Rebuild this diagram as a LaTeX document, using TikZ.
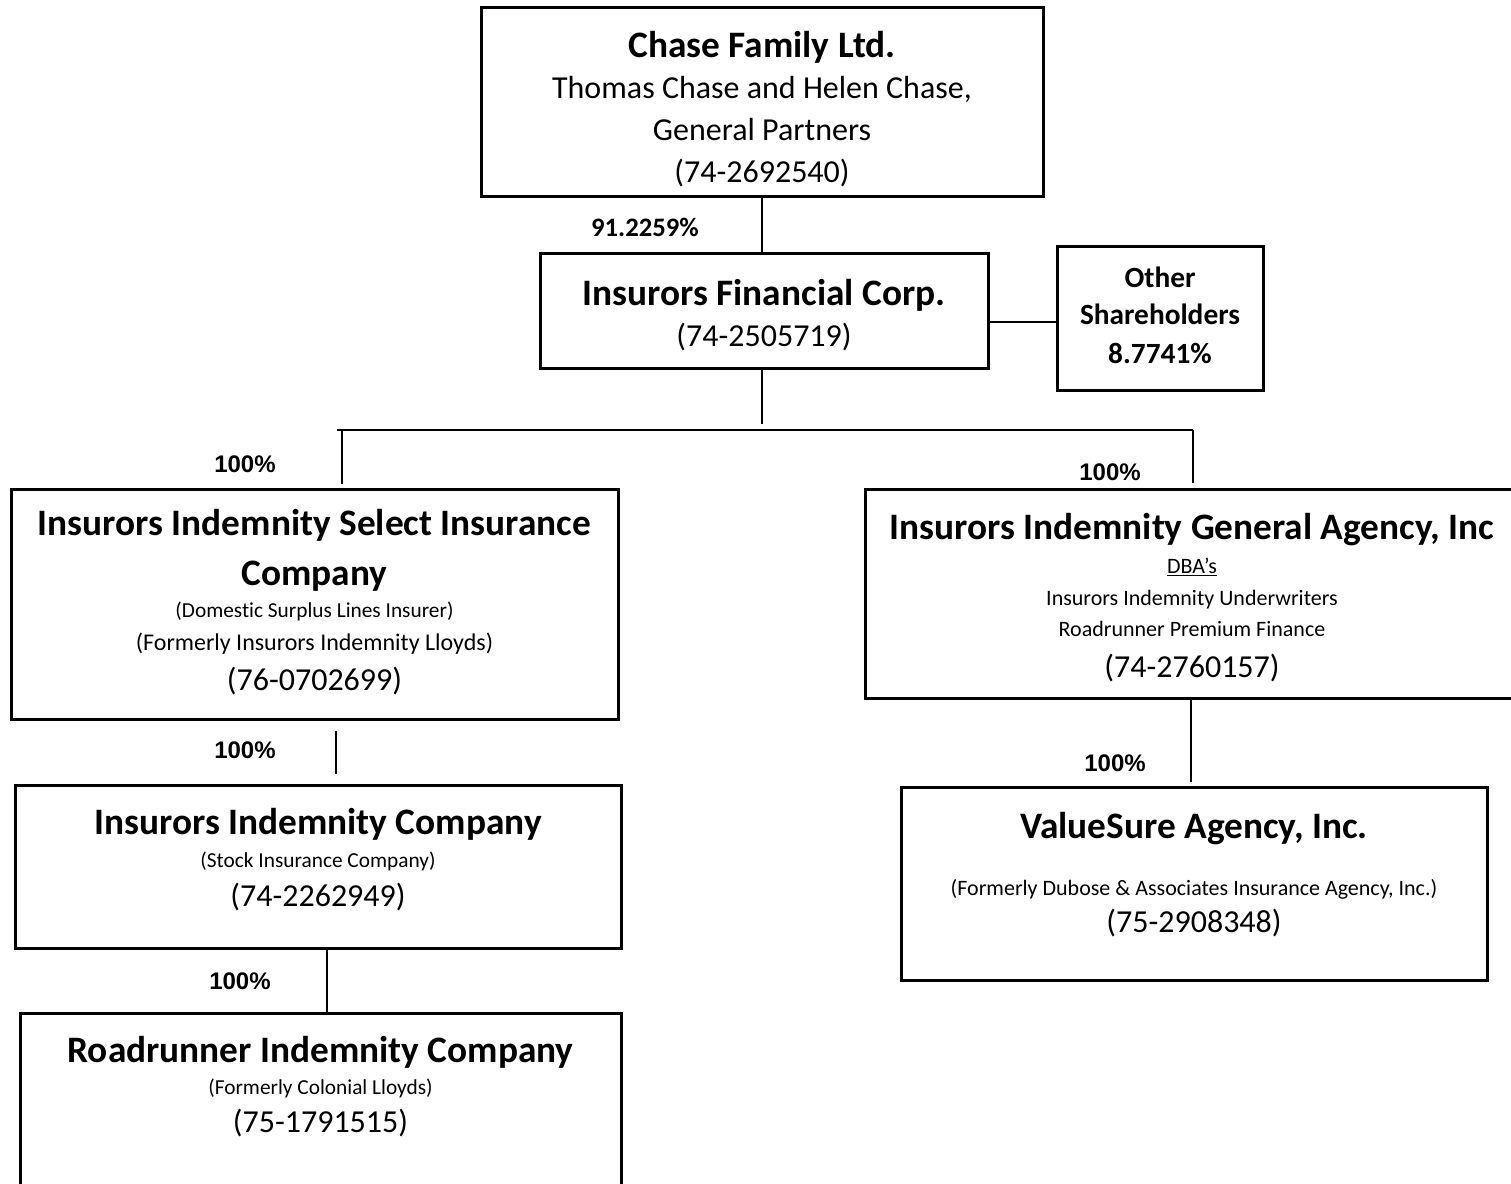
\documentclass[tikz,border=0pt]{standalone}
\usepackage{fontspec}
\setmainfont{Carlito}[Ligatures=NoCommon]
\newfontfamily\arialfont{Liberation Sans}
\begin{document}
\begin{tikzpicture}[x=0.75pt, y=-0.75pt,
  box/.style={draw, line width=2.25pt, inner sep=0pt},
  sz/.style 2 args={minimum width={#1*0.75pt}, minimum height={#2*0.75pt}},
  link/.style={line width=1pt},
  lbl/.style={anchor=base, inner sep=0pt},
  head/.style={lbl, font=\fontsize{28}{34}\selectfont\bfseries},
  ein/.style={lbl, font=\fontsize{24}{29}\selectfont},
  note/.style={lbl, font=\fontsize{16}{19}\selectfont},
  dba/.style={lbl, font=\fontsize{16.5}{20}\selectfont},
  share/.style={lbl, font=\fontsize{22}{26}\selectfont\bfseries},
  pct/.style={lbl, font=\arialfont\fontsize{18}{22}\selectfont\bfseries}]
\useasboundingbox (0,0) rectangle (1511,1183);
% boxes
\node[box, sz={562}{189}] (chase) at (762,101.5) {};
\node[box, sz={448}{115}] (ifc) at (764,310.5) {};
\node[box, sz={206}{144}] (other) at (1160,318) {};
\node[box, sz={607}{230}] (isic) at (314.5,604) {};
\node[box, sz={654}{209}] (iiga) at (1192,593.5) {};
\node[box, sz={606}{163}] (iic) at (318,866.5) {};
\node[box, sz={601}{180}] (ric) at (320.5,1103) {};
\node[box, sz={586}{193}] (vs) at (1194,883.5) {};
% texts
\node[head] (chase-1) at (762,57) {Chase Family Ltd.};
\node[ein] (chase-2) at (762,98) {Thomas Chase and Helen Chase,};
\node[ein] (chase-3) at (762,140) {General Partners};
\node[ein] (chase-4) at (762,182) {(74-2692540)};
\node[head] (ifc-1) at (764,305) {Insurors Financial Corp.};
\node[ein] (ifc-2) at (764,346) {(74-2505719)};
\node[share] (other-1) at (1160,287) {Other};
\node[share] (other-2) at (1160,324) {Shareholders};
\node[share] (other-3) at (1160,363) {8.7741\%};
\node[head] (isic-1) at (314.5,535) {Insurors Indemnity Select Insurance};
\node[head] (isic-2) at (314.5,585) {Company};
\node[note] (isic-3) at (314.5,617) {(Domestic Surplus Lines Insurer)};
\node[lbl, font=\fontsize{18}{22}\selectfont] (isic-4) at (314.5,650) {(Formerly Insurors Indemnity Lloyds)};
\node[ein] (isic-5) at (314.5,690) {(76-0702699)};
\node[head] (iiga-1) at (1192,539) {Insurors Indemnity General Agency, Inc};
\node[dba] (iiga-2) at (1192,573) {\underline{DBA’s}};
\node[dba] (iiga-3) at (1192,605) {Insurors Indemnity Underwriters};
\node[dba] (iiga-4) at (1192,636) {Roadrunner Premium Finance};
\node[ein] (iiga-5) at (1192,677) {(74-2760157)};
\node[head] (iic-1) at (318,834) {Insurors Indemnity Company};
\node[note] (iic-2) at (318,867) {(Stock Insurance Company)};
\node[ein] (iic-3) at (318,906) {(74-2262949)};
\node[head] (ric-1) at (320.5,1062) {Roadrunner Indemnity Company};
\node[note] (ric-2) at (320.5,1094) {(Formerly Colonial Lloyds)};
\node[ein] (ric-3) at (320.5,1132) {(75-1791515)};
\node[head] (vs-1) at (1194,838) {ValueSure Agency, Inc.};
\node[dba] (vs-2) at (1194,895) {(Formerly Dubose \& Associates Insurance Agency, Inc.)};
\node[ein] (vs-3) at (1194,932) {(75-2908348)};
% percentages
\node[lbl, font=\fontsize{20}{24}\selectfont\bfseries] (p0) at (645,236) {91.2259\%};
\node[pct] (p1) at (245,472) {100\%};
\node[pct] (p2) at (1110,480) {100\%};
\node[pct] (p3) at (245,758) {100\%};
\node[pct] (p4) at (240,989) {100\%};
\node[pct] (p5) at (1115,771) {100\%};
% connectors
\coordinate (shr) at (1000,322);
\coordinate (tee) at (762,424);
\coordinate (busl) at (337,430);
\coordinate (busr) at (1193,430);
\coordinate (dropl) at (342,484);
\coordinate (dropr) at (1193,483);
\coordinate (c1) at (336,0);
\coordinate (c2) at (327,0);
\coordinate (c3) at (1191,0);
\draw[link] (chase.south -| tee) -- (ifc.north -| tee);
\draw[link] (ifc.east |- shr) -- (other.west |- shr);
\draw[link] (ifc.south -| tee) -- (tee);
\draw[link] (busl) -- (busr);
\draw[link] (dropl |- busl) -- (dropl);
\draw[link] (busr) -- (dropr);
\draw[link, shorten <=7.5pt, shorten >=7.5pt] (isic.south -| c1) -- (iic.north -| c1);
\draw[link] (iic.south -| c2) -- (ric.north -| c2);
\draw[link, shorten >=3pt] (iiga.south -| c3) -- (vs.north -| c3);
\end{tikzpicture}
\end{document}
